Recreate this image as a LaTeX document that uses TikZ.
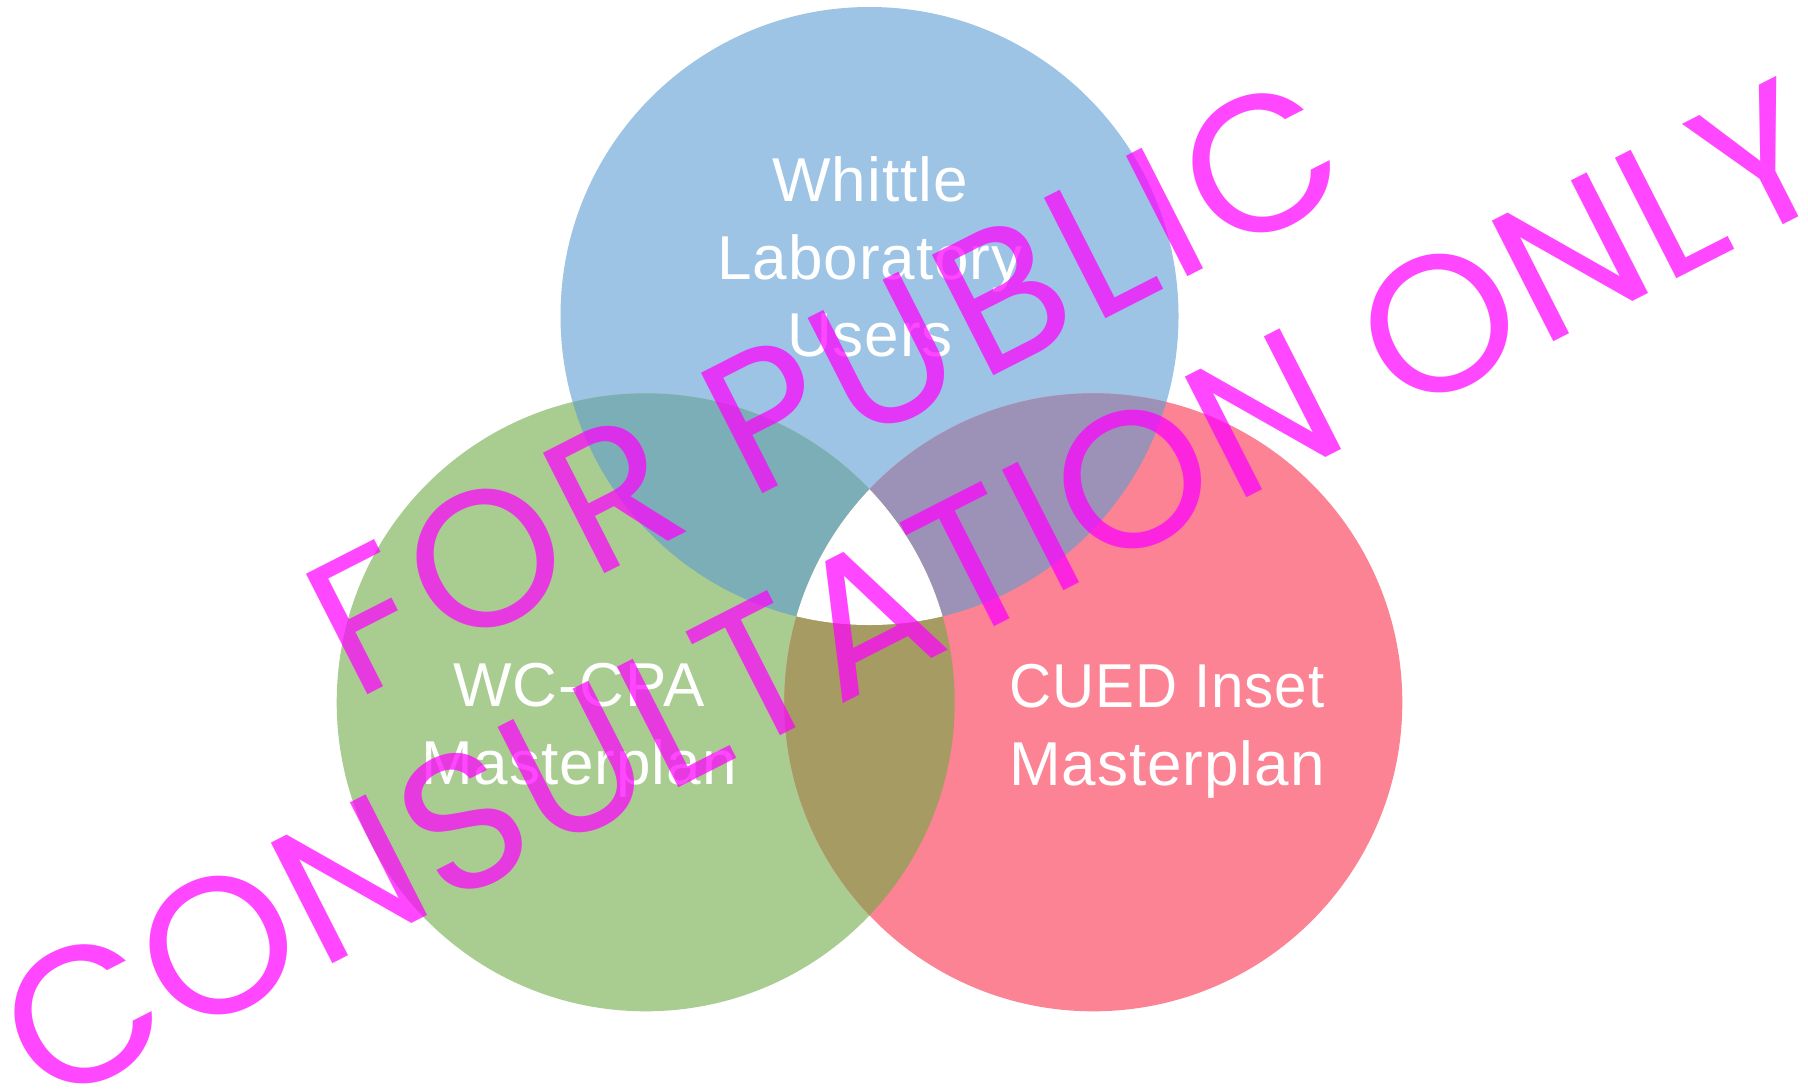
\documentclass[tikz,border=0pt]{standalone}
\usepackage{fontspec}
\setmainfont[LetterSpace=1.5]{Liberation Sans}
\newfontfamily\stampfontwide[LetterSpace=4.0]{Poppins}
\newfontfamily\stampfont[LetterSpace=1.1]{Poppins}
\usepackage{xcolor}
\usepackage{tikz}
\usetikzlibrary{positioning}

\definecolor{wlblue}{HTML}{9DC3E5}
\definecolor{wcgreen}{HTML}{A9CD91}
\definecolor{cuedred}{HTML}{FB8393}
\definecolor{bluegreen}{HTML}{7BAEB7}
\definecolor{bluered}{HTML}{9C92B8}
\definecolor{greenred}{HTML}{A69B63}
\definecolor{stampmag}{HTML}{FF00FF}

\begin{document}
\begin{tikzpicture}[
    x=0.5pt, y=-0.5pt,
    venn/.style={circle, minimum size=309pt, inner sep=0pt},
    vennlabel/.style={align=center, text=white, inner sep=0pt, font=\fontsize{31}{38.75}\selectfont},
    stamp/.style={text=stampmag, text opacity=0.72, inner sep=0pt, rotate=27, anchor=base}
]
\path[use as bounding box, fill=white] (0,0) rectangle (1808,1088);

% Circles
\node[venn, fill=wlblue] (whittle) at (869.5,316) {};
\node[venn, fill=wcgreen] (wccpa) at (645.7,702.3) {};
\node[venn, fill=cuedred] (cued) at (1093.3,702.3) {};

% Overlaps
\begin{scope}
  \clip (whittle.center) circle (309);
  \fill[bluegreen] (wccpa.center) circle (309);
  \fill[bluered] (cued.center) circle (309);
\end{scope}
\begin{scope}
  \clip (wccpa.center) circle (309);
  \fill[greenred] (cued.center) circle (309);
  \clip (whittle.center) circle (309);
  \fill[white] (cued.center) circle (309);
\end{scope}

% Labels
\node[vennlabel] (whittletext) at (870,257) {Whittle\\Laboratory\\Users};
\node[vennlabel] (wccpatext) at (579,730.5) {WC-CPA\\Masterplan};
\node[vennlabel] (cuedtext) at (1167,731.5) {\scalebox{0.94}[1]{CUED Inset}\\Masterplan};

% Watermark
\node[stamp, font=\stampfontwide\fontsize{97}{97}\selectfont] (stamptop) at (856,446) {FOR PUBLIC};
\node[stamp, font=\stampfont\fontsize{97}{97}\selectfont] (stampbottom) at (944,652) {CONSULTATION ONLY};

\end{tikzpicture}
\end{document}
